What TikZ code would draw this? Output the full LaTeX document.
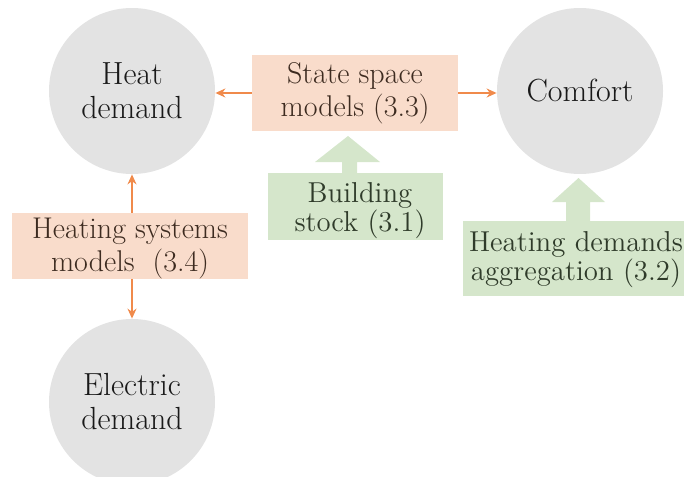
\documentclass[tikz,border=0pt]{standalone}
\usetikzlibrary{arrows.meta}
\definecolor{circfill}{HTML}{E3E3E3}
\definecolor{orangefill}{HTML}{F9DCCB}
\definecolor{greenfill}{HTML}{D5E6CB}
\definecolor{arrowcol}{HTML}{F08A4B}
\definecolor{browntext}{HTML}{3D2B20}
\definecolor{greentext}{HTML}{2F3B2A}
\tikzset{
  px/.style={x=0.5pt,y=-0.5pt},
  topic/.style={circle,fill=circfill,minimum size=83pt,inner sep=0pt,align=center,
    font=\fontsize{16}{17}\selectfont,text=black!90},
  model/.style={fill=orangefill,inner sep=0pt,align=center,text=browntext},
  data/.style={fill=greenfill,inner sep=0pt},
  datatext/.style={inner sep=0pt,align=center,
    font=\fontsize{14.4}{14.5}\selectfont,text=greentext},
  link/.style={draw=arrowcol,line width=0.75pt,-{Stealth[length=5pt,width=4.5pt]}},
  feed/.style={fill=greenfill}
}
\begin{document}
\begin{tikzpicture}[px]
\useasboundingbox (0,0) rectangle (684,476);
% demand and comfort circles
\node[topic] (heat) at (132,91) {Heat\\demand};
\node[topic] (comfort) at (580,91) {Comfort};
\node[topic] (elec) at (132,402) {Electric\\demand};
% model boxes
\node[model,minimum width=103pt,minimum height=38pt,font=\fontsize{15}{16.5}\selectfont] (ssm) at (355,93) {State space\\models (3.3)};
\node[model,minimum width=118pt,minimum height=33pt,font=\fontsize{15}{16.5}\selectfont] (hsm) at (130,246) {};
\node[model,fill=none,font=\fontsize{15}{16.5}\selectfont] at (130,249) {Heating systems\\models\ \ (3.4)};
% data boxes
\node[data,minimum width=87.5pt,minimum height=33.5pt] (stock) at (355.5,206.5) {};
\node[datatext] at (360,211) {Building\\stock (3.1)};
\node[data,minimum width=110.5pt,minimum height=37.5pt] (agg) at (573.5,258.5) {};
\node[datatext] at (576,259.5) {Heating demands\\aggregation (3.2)};
% block arrows feeding data into the models
\fill[feed] (342,174) -- (342,162) -- (315,162) -- (348,136) -- (380,162) -- (357,162) -- (357,174) -- cycle;
\fill[feed] (566,222) -- (566,202) -- (552,202) -- (578.5,178) -- (605,202) -- (590,202) -- (590,222) -- cycle;
% model outputs
\draw[link] (ssm.west) -- (ssm.west -| heat.east);
\draw[link] (ssm.east) -- (ssm.east -| comfort.west);
\draw[link] (hsm.north -| heat.south) -- (heat.south);
\draw[link] (hsm.south -| elec.north) -- (elec.north);
\end{tikzpicture}
\end{document}
